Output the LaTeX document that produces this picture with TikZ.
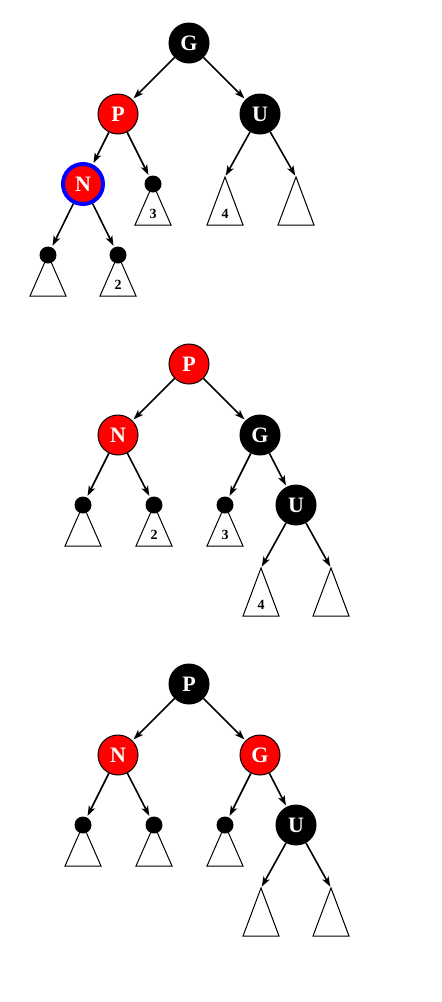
\documentclass[tikz,border=0pt]{standalone}
\usepackage{fontspec}
\setmainfont{Liberation Serif}
\usetikzlibrary{arrows.meta}
\begin{document}
\begin{tikzpicture}[x=1pt,y=-1pt,
 rbnode/.style={circle,minimum size=40pt,inner sep=0pt,draw=black,line width=1pt,text=white,font=\fontsize{22}{22}\selectfont\bfseries},
 blk/.style={rbnode,fill=black},
 rd/.style={rbnode,fill=red},
 cur/.style={rd,draw=blue,line width=4pt},
 nil/.style={circle,fill=black,minimum size=17pt,inner sep=0pt},
 edge/.style={line width=1.6pt,shorten >=1.5pt,-{Stealth[length=10pt,width=7pt,inset=2.5pt]}},
 sub/.style={draw=black,line width=1pt,fill=white,line join=miter},
 lbl/.style={font=\fontsize{14}{14}\selectfont\bfseries,inner sep=0pt}]
\useasboundingbox (0,0) rectangle (442,1002);

% ---------- Tree 1 ----------
\draw[sub] (153,184) -- (135,225) -- (171,225) -- cycle;
\draw[sub] (48,255) -- (30,296) -- (66,296) -- cycle;
\draw[sub] (118,255) -- (100,296) -- (136,296) -- cycle;
\draw[sub] (225,177) -- (207,225) -- (243,225) -- cycle;
\draw[sub] (296,177) -- (278,225) -- (314,225) -- cycle;
\coordinate (a1) at (225,177);
\coordinate (b1) at (296,177);
\node[blk] (G1) at (189,43) {G};
\node[rd] (P1) at (118,114) {P};
\node[blk] (U1) at (260,114) {U};
\node[cur] (N1) at (83,184) {N};
\node[nil] (c1) at (153,184) {};
\node[nil] (d1) at (48,255) {};
\node[nil] (e1) at (118,255) {};
\node[lbl] (l13) at (153,214) {3};
\node[lbl] (l14) at (225,214) {4};
\node[lbl] (l12) at (118,285) {2};
\draw[edge] (G1) -- (P1);
\draw[edge] (G1) -- (U1);
\draw[edge] (P1) -- (N1);
\draw[edge] (P1) -- (c1);
\draw[edge] (U1) -- (a1);
\draw[edge] (U1) -- (b1);
\draw[edge] (N1) -- (d1);
\draw[edge] (N1) -- (e1);

% ---------- Tree 2 ----------
\draw[sub] (83,505) -- (65,546) -- (101,546) -- cycle;
\draw[sub] (154,505) -- (136,546) -- (172,546) -- cycle;
\draw[sub] (225,505) -- (207,546) -- (243,546) -- cycle;
\draw[sub] (261,568) -- (243,616) -- (279,616) -- cycle;
\draw[sub] (331,568) -- (313,616) -- (349,616) -- cycle;
\coordinate (a2) at (261,568);
\coordinate (b2) at (331,568);
\node[rd] (P2) at (189,364) {P};
\node[rd] (N2) at (118,435) {N};
\node[blk] (G2) at (260,435) {G};
\node[blk] (U2) at (296,505) {U};
\node[nil] (c2) at (83,505) {};
\node[nil] (d2) at (154,505) {};
\node[nil] (e2) at (225,505) {};
\node[lbl] (l22) at (154,535) {2};
\node[lbl] (l23) at (225,535) {3};
\node[lbl] (l24) at (261,605) {4};
\draw[edge] (P2) -- (N2);
\draw[edge] (P2) -- (G2);
\draw[edge] (N2) -- (c2);
\draw[edge] (N2) -- (d2);
\draw[edge] (G2) -- (e2);
\draw[edge] (G2) -- (U2);
\draw[edge] (U2) -- (a2);
\draw[edge] (U2) -- (b2);

% ---------- Tree 3 ----------
\draw[sub] (83,825) -- (65,866) -- (101,866) -- cycle;
\draw[sub] (154,825) -- (136,866) -- (172,866) -- cycle;
\draw[sub] (225,825) -- (207,866) -- (243,866) -- cycle;
\draw[sub] (261,888) -- (243,936) -- (279,936) -- cycle;
\draw[sub] (331,888) -- (313,936) -- (349,936) -- cycle;
\coordinate (a3) at (261,888);
\coordinate (b3) at (331,888);
\node[blk] (P3) at (189,684) {P};
\node[rd] (N3) at (118,755) {N};
\node[rd] (G3) at (260,755) {G};
\node[blk] (U3) at (296,825) {U};
\node[nil] (c3) at (83,825) {};
\node[nil] (d3) at (154,825) {};
\node[nil] (e3) at (225,825) {};
\draw[edge] (P3) -- (N3);
\draw[edge] (P3) -- (G3);
\draw[edge] (N3) -- (c3);
\draw[edge] (N3) -- (d3);
\draw[edge] (G3) -- (e3);
\draw[edge] (G3) -- (U3);
\draw[edge] (U3) -- (a3);
\draw[edge] (U3) -- (b3);
\end{tikzpicture}
\end{document}
